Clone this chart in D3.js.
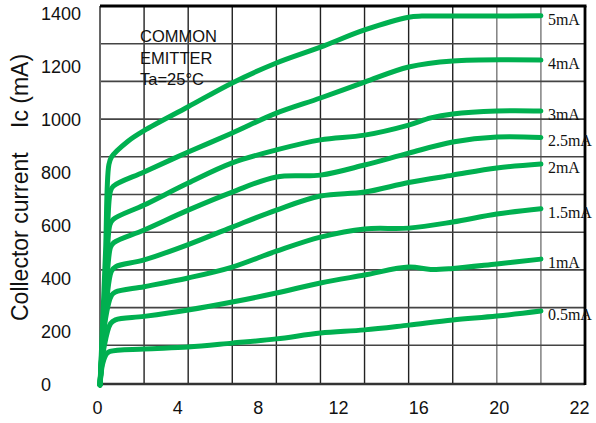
<!DOCTYPE html>
<html>
<head>
<meta charset="utf-8">
<script src="https://cdn.jsdelivr.net/npm/d3@7"></script>
<style>
  body { margin: 0; background: #fff; }
  svg { display: block; }
</style>
</head>
<body>
<script>
// tick labels
var xTicks = ["0", "4", "8", "12", "16", "20", "22"];
var yTicks = [0, 200, 400, 600, 800, 1000, 1200, 1400];

// base current of each curve
var curveNames = ["5mA", "4mA", "3mA", "2.5mA", "2mA", "1.5mA", "1mA", "0.5mA"];

// [Vce (V), Ic (mA)]
var ib5 = [[0,0],[0.25,500],[0.4,830],[0.52,860],[1.27,920],[2,960],[4,1050],[6,1140],[8,1215],[10,1275],[12,1340],[14,1388],[14.6,1392],[16,1392],[20,1393]];
var ib4 = [[0,0],[0.3,480],[0.47,730],[0.6,750],[2,804],[4,879],[6,951],[8,1026],[10,1083],[12,1143],[14,1200],[16,1223],[20,1226]];
var ib3 = [[0,0],[0.3,420],[0.45,605],[0.6,625],[2,679],[4,762],[6,838],[8,887],[10,925],[12,943],[14,981],[15,1008],[16,1023],[18,1034],[20,1034]];
var ib25 = [[0,0],[0.3,380],[0.48,520],[0.62,537],[2,585],[4,660],[6,728],[8,785],[10,792],[12,830],[14,875],[16,917],[18,936],[20,934]];
var ib2 = [[0,0],[0.28,300],[0.52,430],[0.7,446],[2,472],[4,530],[6,596],[8,660],[10,713],[12,728],[14,764],[16,792],[18,819],[20,834]];
var ib15 = [[0,0],[0.25,250],[0.52,338],[0.7,351],[2,371],[4,404],[6,445],[8,505],[10,558],[12,589],[14,592],[16,615],[18,645],[20,665]];
var ib1 = [[0,0],[0.2,150],[0.48,232],[0.7,246],[2,259],[4,283],[6,313],[8,347],[10,385],[12,415],[14,445],[15,436],[16,440],[18,457],[20,475]];
var ib05 = [[0,0],[0.12,80],[0.3,118],[0.45,127],[2,136],[4,143],[6,158],[8,174],[10,196],[12,208],[14,226],[16,245],[18,260],[20,279]];

var curves = [ib5, ib4, ib3, ib25, ib2, ib15, ib1, ib05];

var width = 596, height = 423;
var box = {left: 100, right: 585, top: 6, bottom: 383};
var green = "#00b050";

var svg = d3.select("body").append("svg")
  .attr("width", width)
  .attr("height", height);

var x = d3.scaleLinear().domain([0, 22]).range([box.left, box.right]);
var y = d3.scaleLinear().domain([0, 1400]).range([385, 14]);

// grid: 11 columns, 10 rows across the box
var gx = d3.scaleLinear().domain([0, 11]).range([box.left, box.right]);
var gy = d3.scaleLinear().domain([0, 10]).range([box.bottom, box.top]);

var grid = svg.append("g");
grid.selectAll("line.v")
  .data(d3.range(1, 11))
  .enter().append("line")
  .attr("x1", function(d){ return gx(d); })
  .attr("x2", function(d){ return gx(d); })
  .attr("y1", box.top)
  .attr("y2", box.bottom)
  .style("stroke", function(d){ return d >= 9 ? "#777" : "#222"; })
  .style("stroke-width", 1.4);
grid.selectAll("line.h")
  .data(d3.range(1, 10))
  .enter().append("line")
  .attr("x1", box.left)
  .attr("x2", box.right)
  .attr("y1", function(d){ return gy(d); })
  .attr("y2", function(d){ return gy(d); })
  .style("stroke", "#444")
  .style("stroke-width", 1.6);

// frame
grid.append("line").attr("x1", box.left).attr("x2", box.left).attr("y1", box.top).attr("y2", box.bottom + 1)
  .style("stroke", "#666").style("stroke-width", 2);
grid.append("line").attr("x1", box.left).attr("x2", box.right).attr("y1", box.bottom + 1).attr("y2", box.bottom + 1)
  .style("stroke", "#333").style("stroke-width", 2.4);
grid.append("line").attr("x1", box.left).attr("x2", box.right + 1.5).attr("y1", box.top).attr("y2", box.top)
  .style("stroke", "#000").style("stroke-width", 3);
grid.append("line").attr("x1", box.right).attr("x2", box.right).attr("y1", box.top).attr("y2", box.bottom + 2)
  .style("stroke", "#000").style("stroke-width", 2.8);

// note
var note = svg.append("text")
  .style("font-family", "Liberation Sans, Arial, sans-serif")
  .style("font-size", "16.5px")
  .attr("fill", "#111");
["COMMON", "EMITTER", "Ta=25°C"].forEach(function(t, i){
  note.append("tspan").attr("x", 140).attr("y", 42 + i * 21.5).text(t);
});

// curves
var line = d3.line()
  .x(function(d){ return x(d[0]); })
  .y(function(d){ return y(d[1]); })
  .curve(d3.curveCatmullRom.alpha(0.5));

svg.append("g")
  .selectAll("path")
  .data(curves)
  .enter().append("path")
  .attr("d", line)
  .style("fill", "none")
  .style("stroke", green)
  .style("stroke-width", 5)
  .style("stroke-linecap", "round")
  .style("stroke-linejoin", "round");

// curve labels at the right end
svg.append("g")
  .selectAll("text")
  .data(curves)
  .enter().append("text")
  .attr("x", function(d){ return x(d[d.length-1][0]) + 7; })
  .attr("y", function(d){ return y(d[d.length-1][1]) + 9; })
  .style("font-family", "Liberation Serif, Times New Roman, serif")
  .style("font-size", "16px")
  .attr("fill", "#111")
  .text(function(d, i){ return curveNames[i]; });

// y axis labels
var yAxis = svg.append("g")
  .attr("transform", "translate(" + box.left + ",0)")
  .call(d3.axisLeft(y).tickValues(yTicks).tickSize(0).tickFormat(d3.format("d")));
yAxis.select(".domain").remove();
yAxis.selectAll("text")
  .attr("x", 41 - box.left)
  .style("text-anchor", "start")
  .style("font-family", "Liberation Sans, Arial, sans-serif")
  .style("font-size", "18px")
  .attr("fill", "#111");

// x axis labels (evenly spaced, as printed)
var xl = d3.scalePoint().domain(xTicks).range([97, 579]);
var xAxis = svg.append("g")
  .attr("transform", "translate(0,401)")
  .call(d3.axisBottom(xl).tickSize(0).tickPadding(0));
xAxis.select(".domain").remove();
xAxis.selectAll("text")
  .style("font-family", "Liberation Sans, Arial, sans-serif")
  .style("font-size", "18px")
  .attr("fill", "#111");

// axis title
svg.append("text")
  .attr("transform", "translate(28,321) rotate(-90)")
  .style("font-family", "Liberation Sans, Arial, sans-serif")
  .style("font-size", "23px")
  .attr("fill", "#111")
  .text("Collector current");
svg.append("text")
  .attr("transform", "translate(28,128) rotate(-90)")
  .style("font-family", "Liberation Sans, Arial, sans-serif")
  .style("font-size", "23px")
  .attr("fill", "#111")
  .text("Ic (mA)");
</script>
</body>
</html>
